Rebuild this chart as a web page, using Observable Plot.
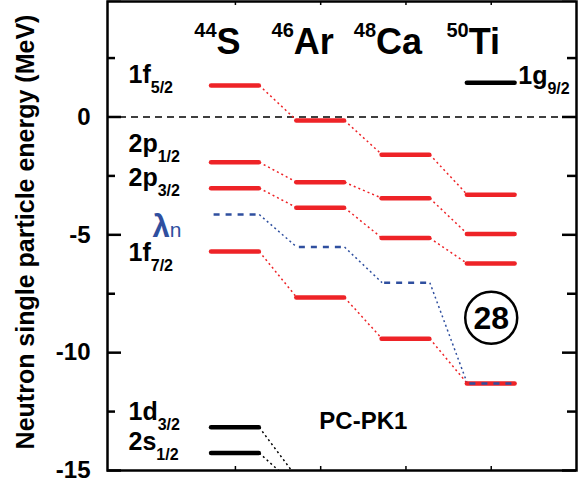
<!DOCTYPE html>
<html><head><meta charset="utf-8">
<script src="https://cdn.jsdelivr.net/npm/d3@7"></script>
<script src="https://cdn.jsdelivr.net/npm/@observablehq/plot@0.6"></script>
<style>body{margin:0;background:#fff} svg{display:block}</style>
</head><body><div id="chart"></div>
<script>
// ---- data ----
const columns = [1, 2, 3, 4];
const massNumbers = [44, 46, 48, 50];
const symbols = ["S", "Ar", "Ca", "Ti"];
const f52 = [1.34, -0.15, -1.60, -3.30];
const p12 = [-1.92, -2.77, -3.45, -4.96];
const p32 = [-3.02, -3.85, -5.14, -6.22];
const f72 = [-5.71, -7.66, -9.41, -11.31];
const lambdaN = [-4.14, -5.52, -7.03, -11.31];
const d32 = [-13.17, -15.3];
const s12 = [-14.26, -15.7];
const g92 = [1.45];
const g92Column = [4];
const levelLabels = ["1f_5/2", "2p_1/2", "2p_3/2", "1f_7/2", "1d_3/2", "2s_1/2"];
const levelLabelEnergies = [1.44, -1.49, -2.91, -6.12, -12.85, -14.15];
const lambdaLabel = ["λ_n"];
const lambdaLabelEnergy = [-5.09];
const g92Label = ["1g_9/2"];
const g92LabelEnergy = [1.41];
const modelName = ["PC-PK1"];
const modelPos = [[2.5, -13.23]];
const magicNumber = ["28"];
const magicPos = [[4, -8.52]];
const yTickLabels = [-15, -10, -5, 0];
const yMajorTicks = [-15, -10, -5, 0, 5];
const yMinorTicks = [-12.5, -7.5, -2.5, 2.5];
const yTitle = "Neutron single particle energy (MeV)";

// ---- derived tables ----
const hw = 0.28;
const toBars = (s) => s.map((e, i) => ({x: columns[i], e}));
const toLinks = (s) => s.slice(0, -1).map((e, i) => ({x1: columns[i], e1: e, x2: columns[i + 1], e2: s[i + 1]}));
const redSeries = [f52, p12, p32, f72];
const blackSeries = [d32, s12];
const redBars = redSeries.flatMap(toBars);
const redLinks = redSeries.flatMap(toLinks);
const blackBars = blackSeries.flatMap(s => toBars(s));
const blackLinks = blackSeries.flatMap(toLinks);
const lamBars = toBars(lambdaN);
const lamLinks = toLinks(lambdaN);
const g92Bars = g92.map((e, i) => ({x: g92Column[i], e}));

const RED = "#ee2327", BLUE = "#2f4f9f";
const FONT = "Liberation Sans, Arial, Helvetica, sans-serif";
const W = 586 - 107 - 10, H = 470 - 1;

const plot = Plot.plot({
  width: 586, height: 483,
  marginLeft: 107, marginRight: 10, marginTop: 1, marginBottom: 13,
  style: {fontFamily: FONT, background: "white"},
  x: {domain: [-0.5, 5], axis: null},
  y: {domain: [-15, 4.9], axis: null},
  marks: [
    Plot.ruleY([0], {stroke: "black", strokeWidth: 1.5, strokeDasharray: "7,5"}),
    Plot.link(redLinks, {x1: d => d.x1 + hw, y1: "e1", x2: d => d.x2 - hw, y2: "e2", stroke: RED, strokeWidth: 1.5, strokeDasharray: "2,3", clip: true}),
    Plot.link(blackLinks, {x1: d => d.x1 + hw, y1: "e1", x2: d => d.x2 - hw, y2: "e2", stroke: "black", strokeWidth: 1.5, strokeDasharray: "2,3", clip: true}),
    Plot.link(lamLinks, {x1: d => d.x1 + hw, y1: "e1", x2: d => d.x2 - hw, y2: "e2", stroke: BLUE, strokeWidth: 1.5, strokeDasharray: "2,3", clip: true}),
    Plot.ruleY(redBars, {y: "e", x1: d => d.x - hw, x2: d => d.x + hw, stroke: RED, strokeWidth: 4.5, strokeLinecap: "round", clip: true}),
    Plot.ruleY(blackBars, {y: "e", x1: d => d.x - hw, x2: d => d.x + hw, stroke: "black", strokeWidth: 4.5, strokeLinecap: "round", clip: true}),
    Plot.ruleY(g92Bars, {y: "e", x1: d => d.x - hw, x2: d => d.x + hw, stroke: "black", strokeWidth: 4.5, strokeLinecap: "round"}),
    Plot.ruleY(lamBars, {y: "e", x1: d => d.x - hw + 0.03, x2: d => d.x + hw, stroke: BLUE, strokeWidth: 2.5, strokeDasharray: "6,6", clip: true}),
    // frame & ticks
    Plot.frame({stroke: "black", strokeWidth: 2.5}),
    Plot.tickY(yMajorTicks, {y: d => d, insetRight: W - 14, strokeWidth: 2.5}),
    Plot.tickY(yMinorTicks, {y: d => d, insetRight: W - 8, strokeWidth: 2.5}),
    Plot.tickY(yMajorTicks, {y: d => d, insetLeft: W - 14, strokeWidth: 2.5}),
    Plot.tickY(yMinorTicks, {y: d => d, insetLeft: W - 9, strokeWidth: 2.5}),
    Plot.tickX(columns, {x: d => d, insetTop: H - 4, strokeWidth: 1.5}),
    Plot.tickX(columns, {x: d => d, insetBottom: H - 4, strokeWidth: 1.5}),
    Plot.text(yTickLabels, {y: d => d, text: d => String(d), frameAnchor: "left", dx: -17, textAnchor: "end", fontSize: 24, fontWeight: "bold", fill: "black"}),
    Plot.text([yTitle], {frameAnchor: "left", dx: -82, dy: -4, rotate: -90, textAnchor: "middle", fontSize: 25, fontWeight: "bold", fill: "black"}),
    // headers
    Plot.text(columns, {x: d => d, text: (d, i) => massNumbers[i] + symbols[i], frameAnchor: "top", dy: 52, dx: -18, lineAnchor: "bottom", textAnchor: "middle", fontSize: 36, fontWeight: "bold", fill: "black"}),
    // level labels
    Plot.text(levelLabels, {y: (d, i) => levelLabelEnergies[i], text: d => d, frameAnchor: "left", dx: 21, textAnchor: "start", lineAnchor: "bottom", fontSize: 25, fontWeight: "bold", fill: "black"}),
    Plot.text(lambdaLabel, {y: (d, i) => lambdaLabelEnergy[i], text: d => d, frameAnchor: "left", dx: 45, textAnchor: "start", lineAnchor: "bottom", fontSize: 31, fontWeight: "bold", fill: BLUE}),
    Plot.text(g92Label, {x: (d, i) => g92Column[i], y: (d, i) => g92LabelEnergy[i], text: d => d, dx: 27, textAnchor: "start", lineAnchor: "bottom", fontSize: 25, fontWeight: "bold", fill: "black"}),
    Plot.text(modelName, {x: (d, i) => modelPos[i][0], y: (d, i) => modelPos[i][1], text: d => d, lineAnchor: "bottom", fontSize: 24, fontWeight: "bold", fill: "black"}),
    Plot.dot(magicNumber, {x: (d, i) => magicPos[i][0], y: (d, i) => magicPos[i][1], r: 26, stroke: "black", strokeWidth: 2.5, fill: "white"}),
    Plot.text(magicNumber, {x: (d, i) => magicPos[i][0], y: (d, i) => magicPos[i][1], text: d => d, dy: 1, fontSize: 32, fontWeight: "bold", fill: "black"})
  ]
});

const NS = "http://www.w3.org/2000/svg";
function tspan(txt, attrs) {
  const t = document.createElementNS(NS, "tspan");
  for (const k in attrs) t.setAttribute(k, attrs[k]);
  t.textContent = txt;
  return t;
}
plot.querySelectorAll("text").forEach(t => {
  const s = t.textContent;
  let m;
  if ((m = s.match(/^(\d+)([A-Z][a-z]?)$/))) {
    t.textContent = "";
    t.append(tspan(m[1], {"font-size": 20, dy: -17}), tspan(m[2], {dy: 17}));
  } else if (s.startsWith("λ_")) {
    const [a, b] = s.split("_");
    t.textContent = "";
    t.append(tspan(a, {}), tspan(b, {"font-size": 21, "font-weight": "normal"}));
  } else if (s.includes("_")) {
    const [a, b] = s.split("_");
    t.textContent = "";
    t.append(tspan(a, {}), tspan(b, {"font-size": 16, dy: 10}));
  }
});
document.getElementById("chart").append(plot);
</script>
</body></html>
